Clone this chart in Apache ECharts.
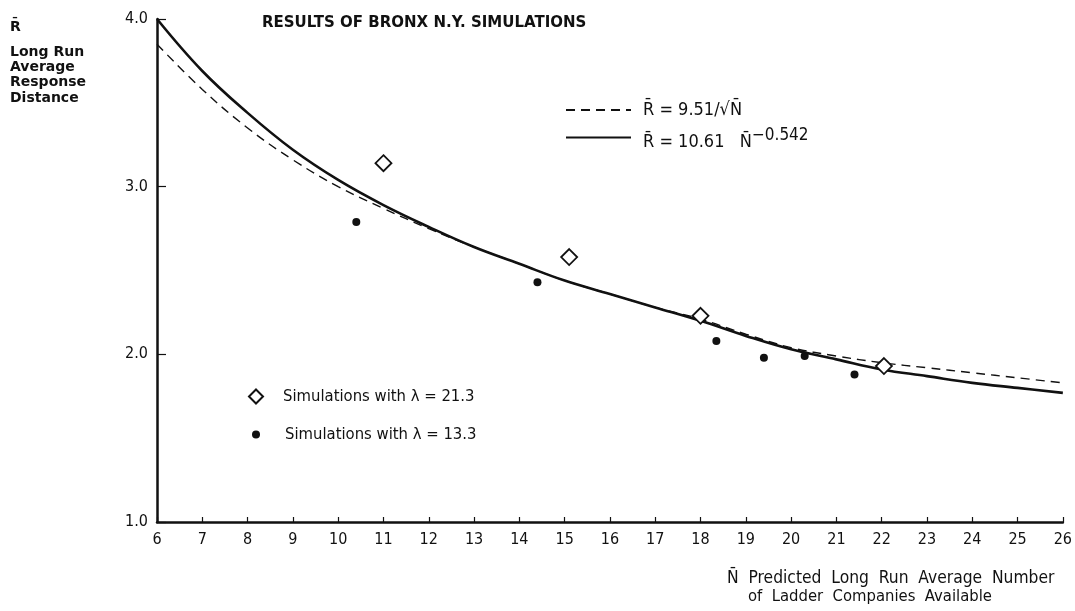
<!DOCTYPE html>
<html>
<head>
<meta charset="utf-8">
<script src="https://cdn.jsdelivr.net/npm/echarts@6/dist/echarts.min.js"></script>
<style>
html,body{margin:0;padding:0;background:#fff;}
#chart{width:1075px;height:611px;}
</style>
</head>
<body>
<div id="chart"></div>
<script>
// ---- data ----
const curveN   = [6, 7, 8, 9, 10, 11, 12, 13, 14, 15, 16, 17, 18, 19, 20, 21, 22, 23, 24, 25, 26];
const dashedR  = [3.85, 3.58, 3.35, 3.16, 3.00, 2.87, 2.75, 2.64, 2.54, 2.44, 2.36, 2.28, 2.21, 2.12, 2.04, 1.99, 1.95, 1.92, 1.89, 1.86, 1.83];
const solidR   = [4.00, 3.69, 3.44, 3.22, 3.04, 2.89, 2.76, 2.64, 2.54, 2.44, 2.36, 2.28, 2.20, 2.11, 2.03, 1.97, 1.91, 1.87, 1.83, 1.80, 1.77];
const diamondN = [11.0, 15.1, 18.0, 22.05];
const diamondR = [3.14, 2.58, 2.23, 1.93];
const dotN     = [10.4, 14.4, 18.35, 19.4, 20.3, 21.4];
const dotR     = [2.79, 2.43, 2.08, 1.98, 1.99, 1.88];
const xTickMin = 6, xTickMax = 26, xTickStep = 1;
const yTickMin = 1, yTickMax = 4, yTickStep = 1;

const nameDashed = 'R\u0304 = 9.51/\u221AN\u0304';
const nameSolid  = 'R\u0304 = 10.61  N\u0304^-0.542';
const nameDiam   = 'Simulations with \u03BB = 21.3';
const nameDot    = 'Simulations with \u03BB = 13.3';

const FONT  = '"DejaVu Sans Condensed", "Liberation Sans Narrow", "DejaVu Sans", sans-serif';
const FONTW = '"DejaVu Sans", "Noto Sans", sans-serif';
const INK = '#111';

const pairs = (xs, ys) => xs.map((x, i) => [x, ys[i]]);

const chart = echarts.init(document.getElementById('chart'), null, {renderer: 'canvas'});
chart.setOption({
  backgroundColor: '#fff',
  animation: false,
  textStyle: {fontFamily: FONT, color: INK},
  grid: {left: 157, right: 11, top: 19, bottom: 89, containLabel: false},
  xAxis: {
    type: 'value', min: xTickMin, max: xTickMax, interval: xTickStep,
    axisLine: {show: true, onZero: false, lineStyle: {color: INK, width: 2.5}},
    axisTick: {show: true, inside: true, length: 5, lineStyle: {color: INK, width: 1.2}},
    axisLabel: {color: INK, fontSize: 16, fontFamily: FONT, margin: 10},
    splitLine: {show: false}
  },
  yAxis: {
    type: 'value', min: yTickMin, max: yTickMax, interval: yTickStep,
    axisLine: {show: true, onZero: false, lineStyle: {color: INK, width: 2.5}},
    axisTick: {show: true, inside: true, length: 9, lineStyle: {color: INK, width: 1.2}},
    axisLabel: {color: INK, fontSize: 16, fontFamily: FONT, margin: 9, formatter: v => v.toFixed(1)},
    splitLine: {show: false}
  },
  legend: [
    {
      data: [nameDashed],
      left: 560, top: 96, padding: 5,
      itemWidth: 65, itemHeight: 14,
      itemStyle: {opacity: 0},
      textStyle: {fontFamily: FONT, fontSize: 18, color: INK, padding: [0, 0, 0, 7]}
    },
    {
      data: [nameSolid],
      left: 560, top: 122, padding: 5,
      itemWidth: 65, itemHeight: 14,
      itemStyle: {opacity: 0},
      textStyle: {
        fontFamily: FONT, fontSize: 18, color: INK, padding: [0, 0, 0, 7],
        rich: {
          b: {fontFamily: FONT, fontSize: 18, color: INK, padding: [10, 0, 0, 0]},
          sup: {fontFamily: FONT, fontSize: 17, color: INK, padding: [0, 0, 4, 0]}
        }
      },
      formatter: () => '{b|R\u0304 = 10.61   N\u0304}{sup|\u22120.542}'
    },
    {
      data: [nameDiam],
      left: 243, top: 383, padding: 5,
      itemWidth: 14, itemHeight: 14,
      textStyle: {fontFamily: FONT, fontSize: 16.5, color: INK, padding: [0, 0, 0, 15]}
    },
    {
      data: [nameDot],
      left: 247, top: 421, padding: 5,
      itemWidth: 8, itemHeight: 8,
      textStyle: {fontFamily: FONT, fontSize: 16.5, color: INK, padding: [0, 0, 0, 20]}
    }
  ],
  series: [
    {
      name: nameDashed, type: 'line', smooth: 0.4, showSymbol: false, symbol: 'none',
      data: pairs(curveN, dashedR),
      lineStyle: {color: INK, width: 1.4, type: [9, 6]},
      itemStyle: {color: INK},
      z: 2
    },
    {
      name: nameSolid, type: 'line', smooth: 0.4, showSymbol: false, symbol: 'none',
      data: pairs(curveN, solidR),
      lineStyle: {color: INK, width: 2.6},
      itemStyle: {color: INK},
      z: 3
    },
    {
      name: nameDiam, type: 'scatter', symbol: 'diamond', symbolSize: [16, 16],
      data: pairs(diamondN, diamondR),
      itemStyle: {color: '#fff', borderColor: INK, borderWidth: 1.8, opacity: 1},
      z: 5
    },
    {
      name: nameDot, type: 'scatter', symbol: 'circle', symbolSize: 8,
      data: pairs(dotN, dotR),
      itemStyle: {color: INK, opacity: 1},
      z: 5
    }
  ],
  graphic: [
    {type: 'text', left: 262, top: 16, style: {text: 'RESULTS OF BRONX N.Y. SIMULATIONS', font: 'bold 15px ' + FONTW, fill: INK}},
    {type: 'text', left: 10, top: 20, style: {text: 'R\u0304', font: 'bold 14px ' + FONTW, fill: INK}},
    {type: 'text', left: 10, top: 45, style: {text: 'Long Run', font: 'bold 14px ' + FONTW, fill: INK}},
    {type: 'text', left: 10, top: 60, style: {text: 'Average', font: 'bold 14px ' + FONTW, fill: INK}},
    {type: 'text', left: 10, top: 75, style: {text: 'Response', font: 'bold 14px ' + FONTW, fill: INK}},
    {type: 'text', left: 10, top: 91, style: {text: 'Distance', font: 'bold 14px ' + FONTW, fill: INK}},
    {type: 'text', left: 727, top: 570, style: {text: 'N\u0304  Predicted  Long  Run  Average  Number', font: '17.3px ' + FONT, fill: INK}},
    {type: 'text', left: 748, top: 588, style: {text: 'of  Ladder  Companies  Available', font: '16.5px ' + FONT, fill: INK}}
  ]
});
</script>
</body>
</html>
